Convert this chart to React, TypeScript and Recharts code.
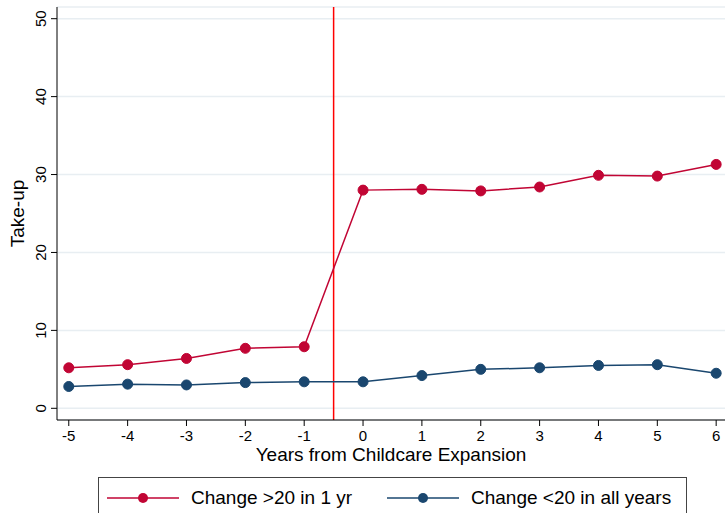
import {
  LineChart,
  Line,
  XAxis,
  YAxis,
  CartesianGrid,
  ReferenceLine,
} from "recharts";

const YEARS = [-5, -4, -3, -2, -1, 0, 1, 2, 3, 4, 5, 6];
const BIG_CHANGE = [5.2, 5.6, 6.4, 7.7, 7.9, 28.0, 28.1, 27.9, 28.4, 29.9, 29.8, 31.3];
const SMALL_CHANGE = [2.8, 3.1, 3.0, 3.3, 3.4, 3.4, 4.2, 5.0, 5.2, 5.5, 5.6, 4.5];
const Y_TICKS = [0, 10, 20, 30, 40, 50];

const RED = "#c10534";
const NAVY = "#1a476f";
const FONT = "'Liberation Sans', Arial, sans-serif";

const data = YEARS.map((year, i) => ({
  year,
  big: BIG_CHANGE[i],
  small: SMALL_CHANGE[i],
}));

// stata style: y tick labels are turned on their side
function YTick(props: any) {
  const { x, y, payload } = props;
  const cx = x - 8;
  return (
    <text
      x={cx}
      y={y}
      transform={`rotate(-90, ${cx}, ${y})`}
      textAnchor="middle"
      dominantBaseline="central"
      fontSize={15}
      fill="#000"
      fontFamily={FONT}
    >
      {payload.value}
    </text>
  );
}

function LegendItem({
  color,
  label,
  left,
}: {
  color: string;
  label: string;
  left: number;
}) {
  return (
    <div
      style={{
        position: "absolute",
        left,
        top: 9,
        display: "flex",
        alignItems: "center",
        whiteSpace: "nowrap",
      }}
    >
      <svg width={72} height={14} style={{ marginRight: 12 }}>
        <line x1={0} y1={7} x2={72} y2={7} stroke={color} strokeWidth={1.5} />
        <circle cx={36} cy={7} r={5} fill={color} />
      </svg>
      <span>{label}</span>
    </div>
  );
}

export default function App() {
  return (
    <div
      style={{
        position: "absolute",
        left: 0,
        top: 0,
        width: 725,
        height: 513,
        overflow: "hidden",
        background: "#fff",
        fontFamily: FONT,
      }}
    >
      <LineChart
        width={725}
        height={513}
        data={data}
        margin={{ top: 7, right: 0, left: 0, bottom: 0 }}
      >
        <CartesianGrid
          horizontal
          vertical={false}
          stroke="#e8eef2"
          strokeWidth={1.5}
        />
        <XAxis
          dataKey="year"
          type="number"
          domain={[-5.2, 6.15]}
          ticks={YEARS}
          height={93}
          stroke="#000"
          tickSize={6}
          tickMargin={4}
          tick={{ fill: "#000", fontSize: 15, fontFamily: FONT }}
          label={{
            value: "Years from Childcare Expansion",
            position: "insideTop",
            offset: 28,
            fill: "#000",
            fontSize: 19,
            fontFamily: FONT,
          }}
        />
        <YAxis
          type="number"
          domain={[-1.5, 51.5]}
          ticks={Y_TICKS}
          width={57}
          stroke="#000"
          tickSize={6}
          tick={<YTick />}
          label={{
            value: "Take-up",
            angle: -90,
            position: "insideLeft",
            offset: 17,
            fill: "#000",
            fontSize: 19,
            fontFamily: FONT,
            style: { textAnchor: "middle" },
          }}
        />
        <ReferenceLine x={-0.5} stroke="#ff0000" strokeWidth={1.5} />
        <Line
          dataKey="big"
          stroke={RED}
          strokeWidth={1.5}
          dot={{ r: 5, fill: RED, stroke: RED, strokeWidth: 1 }}
          isAnimationActive={false}
        />
        <Line
          dataKey="small"
          stroke={NAVY}
          strokeWidth={1.5}
          dot={{ r: 5, fill: NAVY, stroke: NAVY, strokeWidth: 1 }}
          isAnimationActive={false}
        />
      </LineChart>
      <div
        style={{
          position: "absolute",
          left: 98,
          top: 477,
          width: 589,
          height: 45,
          border: "1px solid #444",
          boxSizing: "border-box",
          fontSize: 19,
          color: "#000",
        }}
      >
        <LegendItem color={RED} label="Change >20 in 1 yr" left={8} />
        <LegendItem color={NAVY} label="Change <20 in all years" left={288} />
      </div>
    </div>
  );
}
